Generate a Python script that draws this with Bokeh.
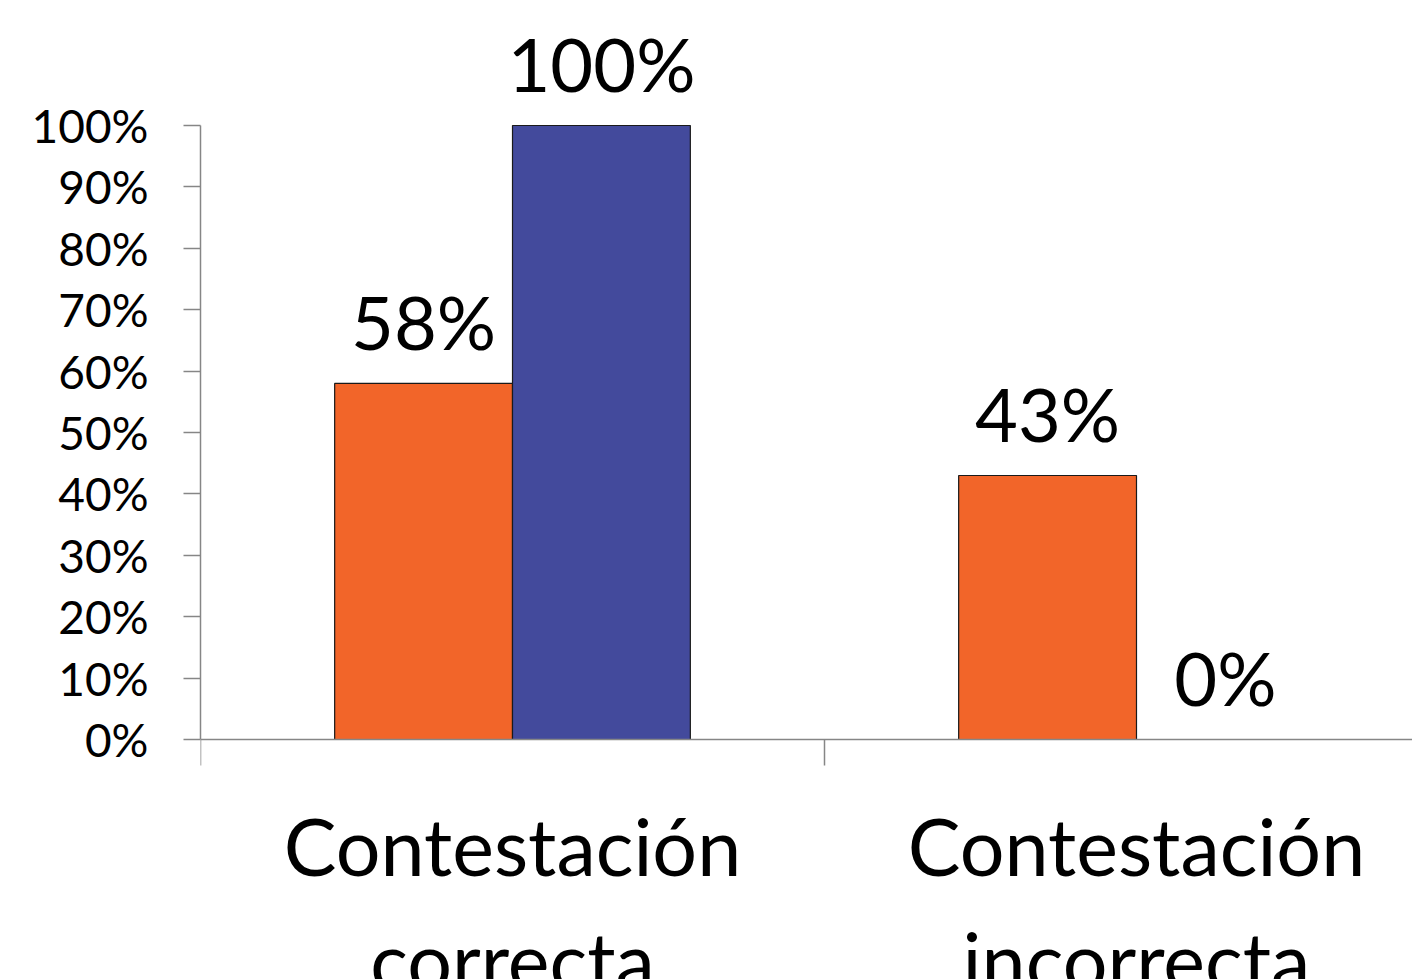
from bokeh.plotting import figure
from bokeh.models import Range1d, LinearAxis, FixedTicker, ColumnDataSource
from bokeh.core.properties import value
from bokeh.embed import file_html
from bokeh.resources import INLINE

# Data
categories = ["Contestación\ncorrecta", "Contestación\nincorrecta"]
serie_a = [0.58, 0.43]   # orange series
serie_b = [1.00, 0.00]   # blue series
labels_a = ["58%", "43%"]
labels_b = ["100%", "0%"]
y_ticks = [i / 10 for i in range(11)]
y_tick_labels = [f"{i * 10}%" for i in range(11)]

ORANGE = "#F26529"
BLUE = "#434A9C"
GREY = "#868686"
FONT = "Lato"

W, H = 1412, 979
FRAME_LEFT = 200     # frame spans x 200..1412, full height
ZERO_Y = 739         # screen row of the 0% baseline
UNIT_PX = 614        # pixels for 100%
CAT_W = 624          # pixels per category
BAR_W = 0.285        # bar width in category units
LABEL_GAP = 62 / UNIT_PX  # anchor of a value label above its bar top

p = figure(width=W, height=H, output_backend="svg", toolbar_location=None,
           x_axis_type=None, y_axis_type=None,
           min_border_left=FRAME_LEFT, min_border_right=0,
           min_border_top=0, min_border_bottom=0)
p.outline_line_color = None
p.grid.visible = False
p.background_fill_color = "white"
p.border_fill_color = "white"

p.x_range = Range1d(0, (W - FRAME_LEFT) / CAT_W)
p.y_range = Range1d(-(H - ZERO_Y) / UNIT_PX, ZERO_Y / UNIT_PX)

centers = [i + 0.5 for i in range(len(categories))]
xa = [c - BAR_W / 2 for c in centers]
xb = [c + BAR_W / 2 for c in centers]

src_a = ColumnDataSource(dict(x=xa, top=serie_a, lab=labels_a,
                              ly=[v + LABEL_GAP for v in serie_a]))
src_b = ColumnDataSource(dict(x=xb, top=serie_b, lab=labels_b,
                              ly=[v + LABEL_GAP for v in serie_b]))

p.vbar(x="x", top="top", bottom=0, width=BAR_W, source=src_a,
       fill_color=ORANGE, line_color="#1a1a1a", line_width=1.2)
p.vbar(x="x", top="top", bottom=0, width=BAR_W, source=src_b,
       fill_color=BLUE, line_color="#1a1a1a", line_width=1.2)

for src in (src_a, src_b):
    p.text(x="x", y="ly", text="lab", source=src,
           text_align="center", text_baseline="alphabetic",
           text_font=value(FONT), text_font_size="74px", text_color="black")

# Y axis, drawn only over 0%..100%
yaxis = LinearAxis(bounds=(0, 1), ticker=FixedTicker(ticks=y_ticks),
                   axis_line_color=GREY, axis_line_width=1.5,
                   major_tick_line_color=GREY, major_tick_line_width=1.5,
                   major_tick_out=17, major_tick_in=0,
                   minor_tick_line_color=None,
                   major_label_standoff=35,
                   major_label_text_font=FONT,
                   major_label_text_font_size="46px",
                   major_label_text_color="black",
                   major_label_overrides={t: l for t, l in zip(y_ticks, y_tick_labels)})
p.add_layout(yaxis, "left")

# X axis at 0%: category separators as minor ticks, names as major labels
xaxis = LinearAxis(fixed_location=0,
                   ticker=FixedTicker(ticks=centers, minor_ticks=[0, 1, 2]),
                   axis_line_color=GREY, axis_line_width=1.5,
                   major_tick_line_color=None, major_tick_out=0, major_tick_in=0,
                   minor_tick_line_color=GREY, minor_tick_line_width=1.5,
                   minor_tick_out=26, minor_tick_in=0,
                   major_label_standoff=32,
                   major_label_text_font=FONT,
                   major_label_text_font_size="79px",
                   major_label_text_color="black",
                   major_label_overrides={c: n for c, n in zip(centers, categories)})
p.add_layout(xaxis, "below")

open("out.html", "w").write(file_html(p, INLINE))
